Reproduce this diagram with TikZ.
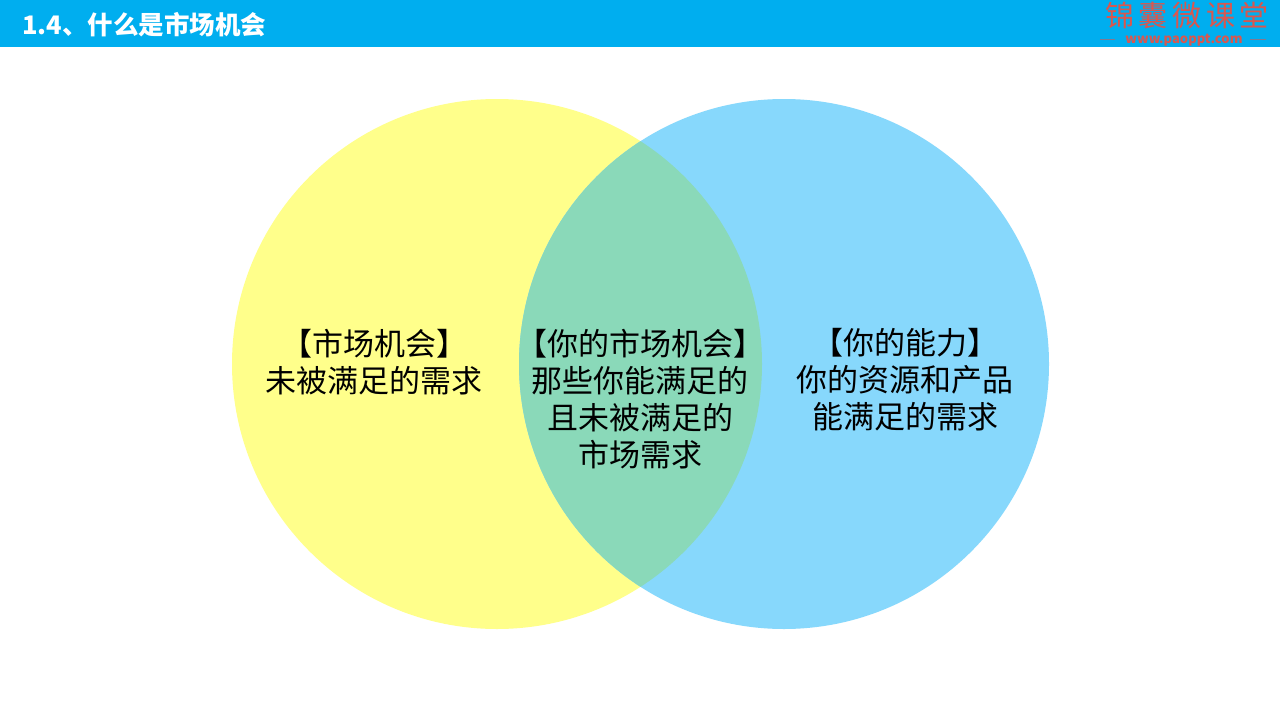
\documentclass[tikz,border=0pt]{standalone}
\usepackage{fontspec}
\setmainfont{Noto Sans CJK SC}
\newfontfamily\cjk{Noto Sans CJK SC}
\newfontfamily\cjkspaced[LetterSpace=16]{Noto Sans CJK SC}
\definecolor{barblue}{HTML}{00AEEF}
\definecolor{venyellow}{HTML}{FFFF8B}
\definecolor{venblue}{HTML}{87D8FC}
\definecolor{venmix}{HTML}{8AD9B9}
\definecolor{logored}{HTML}{D9574F}
\tikzset{
  x=1pt,y=-1pt,
  venntext/.style={font=\fontsize{31}{37}\selectfont\cjk,align=center,text=black,inner sep=0pt,anchor=center},
  title/.style={font=\fontsize{25.5}{28}\selectfont\cjk\bfseries,text=white,inner sep=0pt,anchor=west},
  logo/.style={font=\fontsize{29}{32}\selectfont\cjkspaced,text=logored,inner sep=0pt,anchor=center},
  logourl/.style={font=\fontsize{13}{14}\selectfont\cjk\bfseries,text=logored,inner sep=0pt,anchor=center},
  logorule/.style={draw=logored,opacity=0.6,line width=0.8pt}
}
\begin{document}
\begin{tikzpicture}
\useasboundingbox (0,0) rectangle (1280,720);
\fill[white] (0,0) rectangle (1280,720);
\fill[barblue] (0,0) rectangle (1280,47);
\fill[venyellow] (497,364) circle[radius=265];
\fill[venblue] (784,364) circle[radius=265];
\begin{scope}
\clip (497,364) circle[radius=265];
\fill[venmix] (784,364) circle[radius=265];
\end{scope}
\node[title] (ttl) at (22,25) {1.4、什么是市场机会};
\node[logo] (lg) at (1187,16) {锦囊微课堂};
\node[logourl] (lgu) at (1184,40) {www.paoppt.com};
\coordinate (ll) at (1100,39);
\coordinate (lr) at (1115,39);
\coordinate (rl) at (1250,39);
\coordinate (rr) at (1266,39);
\draw[logorule] (ll) -- (lr);
\draw[logorule] (rl) -- (rr);
\node[venntext] (a) at (374,362) {【市场机会】\\未被满足的需求};
\node[venntext] (b) at (640,399) {【你的市场机会】\\那些你能满足的\\且未被满足的\\市场需求};
\node[venntext] (c) at (905,380) {【你的能力】\\你的资源和产品\\能满足的需求};
\end{tikzpicture}
\end{document}
